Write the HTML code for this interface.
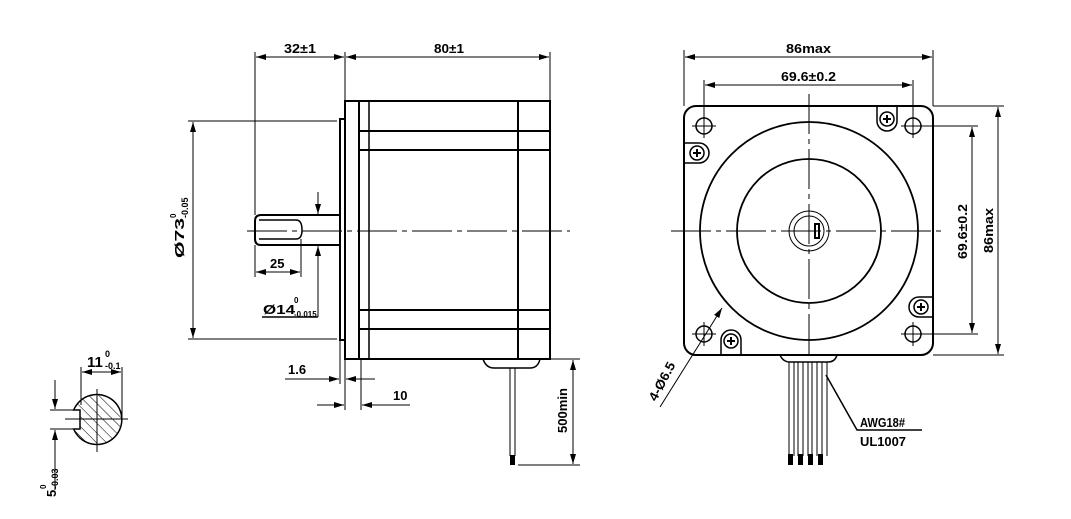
<!DOCTYPE html>
<html><head><meta charset="utf-8"><style>
html,body{margin:0;padding:0;background:#fff;}
svg{display:block;}
text{font-family:"Liberation Sans",sans-serif;font-weight:bold;fill:#000;}
</style></head><body>
<svg width="1071" height="519" viewBox="0 0 1071 519" xmlns="http://www.w3.org/2000/svg">
<defs>
<marker id="a" viewBox="0 0 10 6" refX="10" refY="3" markerWidth="10" markerHeight="6" orient="auto-start-reverse" markerUnits="userSpaceOnUse"><path d="M0,0L10,3L0,6z" fill="#000"/></marker>
<pattern id="h" width="7" height="7" patternUnits="userSpaceOnUse" patternTransform="rotate(-45)"><line x1="0" y1="0" x2="0" y2="7" stroke="#000" stroke-width="1"/></pattern>
</defs>
<g fill="none" stroke="#000">
<!-- LEFT VIEW -->
<rect x="345" y="101" width="205" height="258" stroke-width="2"/>
<line x1="359" y1="101" x2="359" y2="359" stroke-width="2"/>
<line x1="369" y1="101" x2="369" y2="359" stroke-width="1.5"/>
<line x1="518" y1="101" x2="518" y2="359" stroke-width="2"/>
<line x1="359" y1="131" x2="550" y2="131" stroke-width="2"/>
<line x1="359" y1="150" x2="550" y2="150" stroke-width="2"/>
<line x1="359" y1="310" x2="550" y2="310" stroke-width="2"/>
<line x1="359" y1="329" x2="550" y2="329" stroke-width="2"/>
<path d="M345,119H340V340H345" stroke-width="2"/>
<path d="M340,215H261Q255,215 255,221V239Q255,245 261,245H340" stroke-width="2"/>
<path d="M259,220H296Q302,220 302,230Q302,239 296,239H259" stroke-width="1.5"/>
<line x1="247" y1="231" x2="570" y2="231" stroke-width="1" stroke-dasharray="40,5,5,5"/>
<!-- dims top -->
<line x1="255" y1="52" x2="255" y2="215" stroke-width="1"/>
<line x1="345" y1="52" x2="345" y2="101" stroke-width="1"/>
<line x1="550" y1="52" x2="550" y2="101" stroke-width="1"/>
<line x1="256" y1="57" x2="344" y2="57" stroke-width="1" marker-start="url(#a)" marker-end="url(#a)"/>
<line x1="346" y1="57" x2="549" y2="57" stroke-width="1" marker-start="url(#a)" marker-end="url(#a)"/>
<!-- Ø73 -->
<line x1="188" y1="121" x2="337" y2="121" stroke-width="1"/>
<line x1="188" y1="339" x2="337" y2="339" stroke-width="1"/>
<line x1="193" y1="122" x2="193" y2="338" stroke-width="1" marker-start="url(#a)" marker-end="url(#a)"/>
<!-- 25 -->
<line x1="255" y1="245" x2="255" y2="277" stroke-width="1"/>
<line x1="301" y1="239" x2="301" y2="277" stroke-width="1"/>
<line x1="256" y1="272" x2="300" y2="272" stroke-width="1" marker-start="url(#a)" marker-end="url(#a)"/>
<!-- Ø14 -->
<line x1="318" y1="192" x2="318" y2="214" stroke-width="1" marker-end="url(#a)"/>
<line x1="318" y1="317" x2="318" y2="246" stroke-width="1" marker-end="url(#a)"/>
<line x1="262" y1="317" x2="318" y2="317" stroke-width="1.5"/>
<!-- 1.6 / 10 -->
<line x1="340" y1="340" x2="340" y2="384" stroke-width="1"/>
<line x1="345" y1="359" x2="345" y2="410" stroke-width="1"/>
<line x1="361" y1="359" x2="361" y2="410" stroke-width="1"/>
<line x1="285" y1="379" x2="339" y2="379" stroke-width="1" marker-end="url(#a)"/>
<line x1="375" y1="379" x2="346" y2="379" stroke-width="1" marker-end="url(#a)"/>
<line x1="317" y1="405" x2="344" y2="405" stroke-width="1" marker-end="url(#a)"/>
<line x1="410" y1="405" x2="362" y2="405" stroke-width="1" marker-end="url(#a)"/>
<!-- cable -->
<path d="M483,359Q486,368 494,368H530Q538,368 540,359" stroke-width="1.5"/>
<line x1="510" y1="368" x2="510" y2="456" stroke-width="1"/>
<line x1="515" y1="368" x2="515" y2="456" stroke-width="1"/>
<rect x="510" y="455" width="5" height="10" fill="#000" stroke="none"/>
<line x1="550" y1="359" x2="580" y2="359" stroke-width="1"/>
<line x1="518" y1="465" x2="580" y2="465" stroke-width="1"/>
<line x1="573" y1="360" x2="573" y2="464" stroke-width="1" marker-start="url(#a)" marker-end="url(#a)"/>

<!-- RIGHT VIEW -->
<rect x="684" y="106" width="249" height="249" rx="12" stroke-width="2"/>
<circle cx="809" cy="231" r="109" stroke-width="1.8"/>
<circle cx="809" cy="231" r="72" stroke-width="1.8"/>
<circle cx="809" cy="231" r="20" stroke-width="1"/>
<circle cx="809" cy="231" r="15" stroke-width="1"/>
<path d="M815,224h4v14h-4z" stroke-width="2"/>
<line x1="671" y1="231" x2="945" y2="231" stroke-width="1" stroke-dasharray="40,5,5,5"/>
<line x1="809" y1="94" x2="809" y2="358" stroke-width="1" stroke-dasharray="40,5,5,5"/>
<g stroke-width="1.5">
<circle cx="704" cy="126" r="8"/><circle cx="913" cy="126" r="8"/>
<circle cx="704" cy="334" r="8"/><circle cx="913" cy="334" r="8"/>
</g>
<g stroke-width="1">
<line x1="692" y1="126" x2="716" y2="126"/><line x1="704" y1="114" x2="704" y2="138"/>
<line x1="901" y1="126" x2="925" y2="126"/><line x1="913" y1="114" x2="913" y2="138"/>
<line x1="692" y1="334" x2="716" y2="334"/><line x1="704" y1="322" x2="704" y2="346"/>
<line x1="901" y1="334" x2="925" y2="334"/><line x1="913" y1="322" x2="913" y2="346"/>
</g>
<!-- screw tabs -->
<g stroke-width="1.5">
<path d="M877,106V121A10,10 0 0 0 897,121V106"/><circle cx="887" cy="119" r="7"/>
<path d="M684,143H699A10,10 0 0 1 699,163H684"/><circle cx="697" cy="153" r="7"/>
<path d="M933,297H919A10,10 0 0 0 919,317H933"/><circle cx="921" cy="307" r="7"/>
<path d="M721,355V340A10,10 0 0 1 741,340V355"/><circle cx="731" cy="341" r="7"/>
</g>
<g stroke-width="2">
<path d="M883,119h8M887,115v8M693,153h8M697,149v8M917,307h8M921,303v8M727,341h8M731,337v8"/>
</g>
<!-- dims right -->
<line x1="684" y1="50" x2="684" y2="106" stroke-width="1"/>
<line x1="933" y1="50" x2="933" y2="106" stroke-width="1"/>
<line x1="704" y1="80" x2="704" y2="118" stroke-width="1"/>
<line x1="913" y1="80" x2="913" y2="118" stroke-width="1"/>
<line x1="685" y1="57" x2="932" y2="57" stroke-width="1" marker-start="url(#a)" marker-end="url(#a)"/>
<line x1="705" y1="85" x2="912" y2="85" stroke-width="1" marker-start="url(#a)" marker-end="url(#a)"/>
<line x1="921" y1="126" x2="978" y2="126" stroke-width="1"/>
<line x1="921" y1="334" x2="978" y2="334" stroke-width="1"/>
<line x1="933" y1="106" x2="1004" y2="106" stroke-width="1"/>
<line x1="933" y1="355" x2="1004" y2="355" stroke-width="1"/>
<line x1="972" y1="127" x2="972" y2="333" stroke-width="1" marker-start="url(#a)" marker-end="url(#a)"/>
<line x1="998" y1="107" x2="998" y2="354" stroke-width="1" marker-start="url(#a)" marker-end="url(#a)"/>
<!-- 4-Ø6.5 leader -->
<line x1="660" y1="407" x2="722" y2="308" stroke-width="1" marker-end="url(#a)"/>
<!-- connector & wires -->
<path d="M780,355Q783,362 790,362H828Q835,362 837,355" stroke-width="1.5"/>
<g stroke-width="1">
<path d="M789,362V456M794,362V456M798,362V456M803,362V456M808,362V456M812,362V456M817,362V456M822,362V456M827,362V456"/>
</g>
<g fill="#000" stroke="none">
<rect x="788" y="454" width="5" height="11"/><rect x="798" y="454" width="5" height="11"/><rect x="808" y="454" width="5" height="11"/><rect x="818" y="454" width="5" height="11"/>
</g>
<path d="M826,375L857,430H922" stroke-width="1.5"/>

<!-- SHAFT SECTION -->
<path d="M73.7,410H80V429H73.7A25,25 0 1 0 73.7,410Z" fill="url(#h)" stroke-width="1.5"/>
<line x1="65" y1="419" x2="128" y2="419" stroke-width="1"/>
<line x1="97" y1="389" x2="97" y2="452" stroke-width="1"/>
<line x1="81" y1="367" x2="81" y2="405" stroke-width="1"/>
<line x1="122" y1="367" x2="122" y2="418" stroke-width="1"/>
<line x1="82" y1="372" x2="121" y2="372" stroke-width="1" marker-start="url(#a)" marker-end="url(#a)"/>
<line x1="50" y1="410" x2="80" y2="410" stroke-width="1"/>
<line x1="50" y1="429" x2="80" y2="429" stroke-width="1"/>
<line x1="55" y1="380" x2="55" y2="409" stroke-width="1" marker-end="url(#a)"/>
<line x1="55" y1="490" x2="55" y2="430" stroke-width="1" marker-end="url(#a)"/>
</g>

<!-- TEXT -->
<g font-size="13">
<text x="284" y="53" textLength="32" lengthAdjust="spacingAndGlyphs">32±1</text>
<text x="434" y="53" textLength="30" lengthAdjust="spacingAndGlyphs">80±1</text>
<text x="786" y="53" textLength="45" lengthAdjust="spacingAndGlyphs">86max</text>
<text x="781" y="81" textLength="55" lengthAdjust="spacingAndGlyphs">69.6±0.2</text>
<text x="270" y="268">25</text>
<text x="288" y="374">1.6</text>
<text x="393" y="400">10</text>
<text x="263" y="314" textLength="32" lengthAdjust="spacingAndGlyphs">Ø14</text>
<text x="294" y="303" font-size="8">0</text>
<text x="294" y="317" font-size="8">-0.015</text>
<text transform="translate(184,258) rotate(-90)" textLength="40" lengthAdjust="spacingAndGlyphs">Ø73</text>
<text transform="translate(176,218) rotate(-90)" font-size="8">0</text>
<text transform="translate(188,218) rotate(-90)" font-size="9">-0.05</text>
<text transform="translate(567,433) rotate(-90)" textLength="45" lengthAdjust="spacingAndGlyphs">500min</text>
<text transform="translate(967,259) rotate(-90)" textLength="55" lengthAdjust="spacingAndGlyphs">69.6±0.2</text>
<text transform="translate(993,253) rotate(-90)" textLength="45" lengthAdjust="spacingAndGlyphs">86max</text>
<text transform="translate(656,402) rotate(-62)" textLength="42" lengthAdjust="spacingAndGlyphs">4-Ø6.5</text>
<text x="860" y="427" textLength="45" lengthAdjust="spacingAndGlyphs">AWG18#</text>
<text x="860" y="446" textLength="46" lengthAdjust="spacingAndGlyphs">UL1007</text>
<text x="87" y="367" font-size="15">11</text>
<text x="105" y="357" font-size="9">0</text>
<text x="105" y="369" font-size="9">-0.1</text>
<text transform="translate(56,497) rotate(-90)" font-size="13">5</text>
<text transform="translate(46,489) rotate(-90)" font-size="8">0</text>
<text transform="translate(58,489) rotate(-90)" font-size="9">-0.03</text>
</g>
</svg>
</body></html>
